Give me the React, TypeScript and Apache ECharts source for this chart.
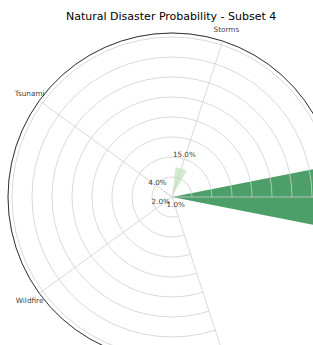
import React, { useEffect, useRef } from 'react';
import * as echarts from 'echarts';

// Categories counter-clockwise from 0° (east); the first and last names are off the picture.
const categories = ['', 'Storms', 'Tsunami', 'Wildfire', ''];
const probabilities = [78.0, 15.0, 4.0, 2.0, 1.0];
const radialMax = 82;
const radialInterval = 10;

const barColors = [
  'rgba(31,135,66,0.8)',
  'rgba(199,233,192,0.8)',
  'rgba(229,245,224,0.8)',
  'rgba(240,249,236,0.8)',
  'rgba(245,251,242,0.8)',
];

const FONT = '"DejaVu Sans", sans-serif';

export default function App() {
  const ref = useRef<HTMLDivElement>(null);
  useEffect(() => {
    const chart = echarts.init(ref.current!, null, { renderer: 'svg' });
    chart.setOption({
      animation: false,
      title: {
        text: 'Natural Disaster Probability - Subset 4',
        left: 66,
        top: 11,
        padding: 0,
        textStyle: { fontFamily: FONT, fontSize: 11, fontWeight: 'normal', color: '#000' },
      },
      polar: { center: [172, 197], radius: 164 },
      angleAxis: {
        type: 'category',
        data: categories,
        boundaryGap: false,
        startAngle: 0,
        clockwise: false,
        z: 5,
        axisLine: { show: true, lineStyle: { color: '#222', width: 0.9 } },
        axisTick: { show: false },
        axisLabel: { show: false },
        splitLine: { show: true, lineStyle: { color: '#cfcfcf', width: 0.8 } },
      },
      radiusAxis: {
        type: 'value',
        min: 0,
        max: radialMax,
        interval: radialInterval,
        z: 5,
        axisLine: { show: false },
        axisTick: { show: false },
        axisLabel: { show: false },
        splitLine: { show: true, lineStyle: { color: '#cfcfcf', width: 0.8 } },
      },
      series: [
        {
          type: 'bar',
          coordinateSystem: 'polar',
          barWidth: '31%',
          z: 1,
          data: probabilities.map((v, i) => ({ value: v, itemStyle: { color: barColors[i] } })),
        },
        {
          type: 'scatter',
          coordinateSystem: 'polar',
          symbolSize: 1,
          clip: false,
          z: 6,
          itemStyle: { color: 'transparent' },
          data: probabilities.map((v, i) => [v + 5, i]),
          label: {
            show: true,
            position: 'top',
            distance: 0,
            formatter: (p: any) => probabilities[p.dataIndex].toFixed(1) + '%',
            fontFamily: FONT,
            fontSize: 7.2,
            color: '#000',
            textBorderWidth: 0,
          },
        },
        {
          type: 'scatter',
          coordinateSystem: 'polar',
          symbolSize: 1,
          clip: false,
          z: 6,
          itemStyle: { color: 'transparent' },
          data: categories.map((_, i) => [88, i]),
          label: {
            show: true,
            position: 'inside',
            formatter: (p: any) => categories[p.dataIndex],
            fontFamily: FONT,
            fontSize: 7.3,
            color: '#000',
            textBorderWidth: 0,
          },
        },
      ],
    });
    return () => chart.dispose();
  }, []);
  return <div ref={ref} style={{ position: 'absolute', left: 0, top: 0, width: 313, height: 345 }} />;
}
